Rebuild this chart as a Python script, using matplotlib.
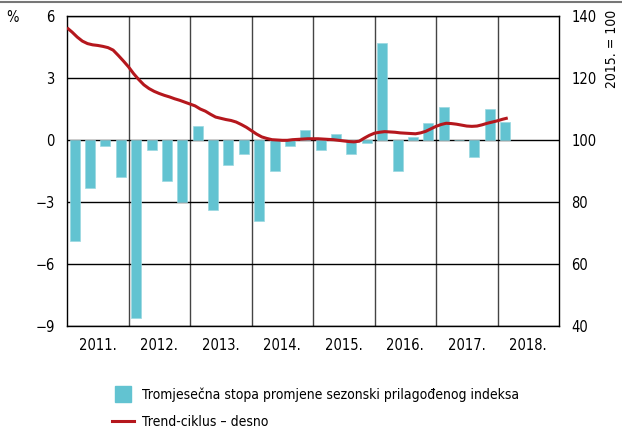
import matplotlib
matplotlib.use('Agg')
import matplotlib.pyplot as plt
from matplotlib import font_manager
from matplotlib.lines import Line2D

names = {f.name for f in font_manager.fontManager.ttflist}
if 'Liberation Sans Narrow' in names:
    plt.rcParams['font.family'] = ['Liberation Sans Narrow', 'DejaVu Sans']
else:
    plt.rcParams['font.family'] = ['DejaVu Sans']
    plt.rcParams['font.stretch'] = 'condensed'
plt.rcParams['font.size'] = 10.5

years = ['2011.', '2012.', '2013.', '2014.', '2015.', '2016.', '2017.', '2018.']

# quarterly rate of change, 2011 Q1 .. 2018 Q1 (%)
qoq = [
    -4.9, -2.3, -0.3, -1.8,
    -8.6, -0.5, -2.0, -3.0,
    0.7, -3.4, -1.2, -0.7,
    -3.9, -1.5, -0.3, 0.5,
    -0.5, 0.3, -0.7, -0.15,
    4.7, -1.5, 0.15, 0.8,
    1.6, 0.0, -0.8, 1.5,
    0.85,
]

# trend-cycle, monthly Jan 2011 .. Mar 2018 (2015. = 100)
trend = [
    136.2, 134.8, 133.2, 131.9, 131.1, 130.7, 130.5, 130.2, 129.8, 129.0, 127.3, 125.5,
    123.6, 121.4, 119.5, 117.8, 116.6, 115.7, 115.0, 114.4, 113.9, 113.3, 112.8, 112.2,
    111.6, 111.0, 110.0, 109.3, 108.3, 107.4, 107.0, 106.6, 106.3, 105.8, 105.0, 104.1,
    103.0, 101.9, 101.0, 100.5, 100.1, 100.0, 99.9, 99.9, 100.1, 100.2, 100.3, 100.4,
    100.4, 100.4, 100.3, 100.2, 100.1, 99.9, 99.7, 99.5, 99.4, 99.6, 100.6, 101.5,
    102.2, 102.5, 102.7, 102.6, 102.5, 102.3, 102.2, 102.1, 102.0, 102.3, 102.8, 103.6,
    104.4, 105.0, 105.4, 105.3, 105.1, 104.8, 104.5, 104.4, 104.5, 104.9, 105.4, 105.8,
    106.2, 106.7, 107.1,
]

bar_color = '#62c3d1'
line_color = '#b5171d'

fig = plt.figure(figsize=(6.22, 4.32), dpi=100)
ax = fig.add_axes([67 / 622, 1 - 326 / 432, 492 / 622, 310 / 432])

qx = [i + 0.5 for i in range(len(qoq))]
ax.bar(qx, qoq, width=0.65, color=bar_color, edgecolor='#9ad8e1',
       linewidth=0.5, zorder=3)

ax.set_xlim(0, 32)
ax.set_ylim(-9, 6)
ax.set_yticks([-9, -6, -3, 0, 3, 6])
ax.set_yticklabels(['\u22129', '\u22126', '\u22123', '0', '3', '6'])
ax.set_xticks([4 * i + 2 for i in range(len(years))])
ax.set_xticklabels(years)
ax.set_xticks([4 * i for i in range(1, len(years))], minor=True)
ax.tick_params(axis='both', which='both', length=0)
ax.tick_params(axis='y', pad=9)
ax.tick_params(axis='x', pad=9)
ax.grid(axis='y', color='black', linewidth=1.0, zorder=1)
ax.grid(axis='x', which='minor', color='#444444', linewidth=1.0, zorder=1)
ax.set_axisbelow(True)
for s in ax.spines.values():
    s.set_color('black')
    s.set_linewidth(1.0)

ax2 = ax.twinx()
mx = [m / 3 for m in range(len(trend))]
ax2.plot(mx, trend, color=line_color, linewidth=2.2, solid_capstyle='butt',
         solid_joinstyle='round', zorder=4)
ax2.set_ylim(40, 140)
ax2.set_yticks([40, 60, 80, 100, 120, 140])
ax2.tick_params(axis='y', length=0, pad=9)
for s in ax2.spines.values():
    s.set_visible(False)

fig.text(12 / 622, 1 - 18 / 432, '%', ha='center', va='center')
fig.text(612 / 622, 1 - 10 / 432, '2015. = 100', rotation=90,
         ha='center', va='top', fontsize=10)

# rule above the chart
fig.add_artist(Line2D([0, 1], [1 - 1.5 / 432, 1 - 1.5 / 432],
                      color='#777777', linewidth=1.5))

handles = [
    Line2D([], [], linestyle='none', marker='s', markersize=11.5,
           markerfacecolor=bar_color, markeredgecolor=bar_color),
    Line2D([], [], color=line_color, linewidth=2.2),
]
labels = ['Tromjesečna stopa promjene sezonski prilagođenog indeksa',
          'Trend-ciklus \u2013 desno']
fig.legend(handles, labels, loc='upper left', fontsize=10,
           bbox_to_anchor=(112 / 622, 1 - 387 / 432), frameon=False,
           handlelength=1.6, handletextpad=0.55, labelspacing=0.95,
           borderaxespad=0, borderpad=0)

fig.savefig('out.png', dpi=100)
